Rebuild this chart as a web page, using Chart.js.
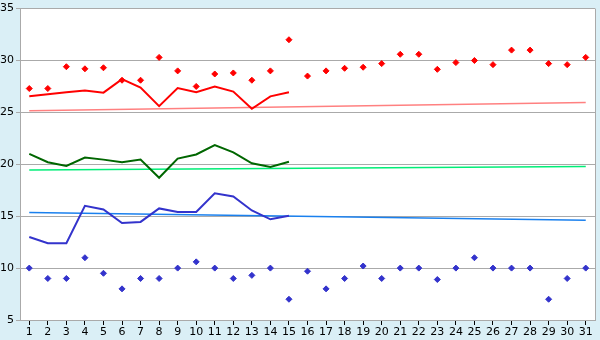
<!DOCTYPE html>
<html>
<head>
<meta charset="utf-8">
<script src="https://cdn.jsdelivr.net/npm/chart.js@4/dist/chart.umd.min.js"></script>
<style>
  body { margin: 0; background: #daeff6; }
  canvas { display: block; }
</style>
</head>
<body>
<canvas id="chart-month" width="600" height="340"></canvas>
<script>
const days = Array.from({ length: 31 }, (_, i) => String(i + 1));

const maxPoints = [27.3, 27.3, 29.4, 29.2, 29.3, 28.1, 28.1, 30.3, 29.0, 27.5, 28.7, 28.8, 28.1, 29.0, 32.0,
  28.5, 29.0, 29.25, 29.35, 29.7, 30.6, 30.6, 29.15, 29.8, 30.0, 29.6, 31.0, 31.0, 29.7, 29.6, 30.3];
const minPoints = [10.0, 9.0, 9.0, 11.0, 9.5, 8.0, 9.0, 9.0, 10.0, 10.6, 10.0, 9.0, 9.3, 10.0, 7.0,
  9.7, 8.0, 9.0, 10.2, 9.0, 10.0, 10.0, 8.9, 10.0, 11.0, 10.0, 10.0, 10.0, 7.0, 9.0, 10.0];

const redLine = [26.55, 26.75, 26.95, 27.1, 26.9, 28.2, 27.4, 25.6, 27.35, 26.95, 27.5, 27.0, 25.35, 26.55, 26.95];
const greenLine = [21.0, 20.2, 19.85, 20.65, 20.45, 20.2, 20.45, 18.7, 20.55, 20.95, 21.85, 21.15, 20.1, 19.75, 20.25];
const blueLine = [13.0, 12.4, 12.4, 16.0, 15.65, 14.35, 14.45, 15.75, 15.4, 15.4, 17.2, 16.9, 15.55, 14.7, 15.05];

// trend lines: values at day 1 and day 31
const redTrend = [25.15, 25.95];
const greenTrend = [19.45, 19.8];
const blueTrend = [15.35, 14.6];

const yTicks = [5, 10, 15, 20, 25, 30, 35];

function endpoints(pair) {
  const arr = days.map(() => null);
  arr[0] = pair[0];
  arr[days.length - 1] = pair[1];
  return arr;
}

const frame = {
  id: 'frame',
  beforeDraw(chart) {
    const { ctx, chartArea: a } = chart;
    ctx.save();
    ctx.fillStyle = '#daeff6';
    ctx.fillRect(0, 0, chart.width, chart.height);
    ctx.fillStyle = '#ffffff';
    ctx.fillRect(a.left, a.top, a.right - a.left, a.bottom - a.top);
    ctx.restore();
  },
  afterDraw(chart) {
    const { ctx, chartArea: a } = chart;
    ctx.save();
    ctx.strokeStyle = '#aaaaaa';
    ctx.lineWidth = 1;
    ctx.beginPath();
    ctx.moveTo(a.right + 0.5, a.top);
    ctx.lineTo(a.right + 0.5, a.bottom);
    ctx.stroke();
    ctx.restore();
  },
};

function trendSet(pair, color) {
  return {
    type: 'line',
    data: endpoints(pair),
    borderColor: color,
    borderWidth: 1.5,
    pointRadius: 0,
    spanGaps: true,
    tension: 0,
    order: 5,
  };
}

function lineSet(values, color) {
  return {
    type: 'line',
    data: values,
    borderColor: color,
    borderWidth: 2,
    pointRadius: 0,
    tension: 0,
    order: 2,
  };
}

function pointSet(values, color) {
  return {
    type: 'line',
    data: values,
    showLine: false,
    pointStyle: 'rectRot',
    pointRadius: 3,
    pointBackgroundColor: color,
    pointBorderColor: color,
    pointBorderWidth: 1,
    order: 1,
  };
}

Chart.defaults.font.family = '"DejaVu Sans", Verdana, sans-serif';
Chart.defaults.font.size = 11;
Chart.defaults.color = '#000000';

new Chart(document.getElementById('chart-month').getContext('2d'), {
  type: 'line',
  data: {
    labels: days,
    datasets: [
      trendSet(redTrend, '#ff8080'),
      trendSet(greenTrend, '#00ee77'),
      trendSet(blueTrend, '#1a80ee'),
      lineSet(redLine, '#ff0000'),
      lineSet(greenLine, '#006600'),
      lineSet(blueLine, '#3333cc'),
      pointSet(maxPoints, '#ff0000'),
      pointSet(minPoints, '#3333cc'),
    ],
  },
  options: {
    responsive: false,
    animation: false,
    layout: { padding: { top: 5, right: 5, left: 0, bottom: 0 } },
    plugins: { legend: { display: false }, tooltip: { enabled: false } },
    scales: {
      x: {
        offset: true,
        grid: { drawOnChartArea: false, drawTicks: true, tickLength: 5, color: '#000000', offset: false },
        border: { color: '#aaaaaa' },
        ticks: { autoSkip: false, maxRotation: 0, padding: 1, color: '#000000' },
        afterFit(scale) { scale.height = 20; },
      },
      y: {
        min: 5,
        max: 35,
        afterBuildTicks(scale) { scale.ticks = yTicks.map((v) => ({ value: v })); },
        grid: { color: '#aaaaaa', tickLength: 4 },
        border: { color: '#aaaaaa' },
        ticks: { padding: 2, color: '#000000' },
        afterFit(scale) { scale.width = 20; },
      },
    },
  },
  plugins: [frame],
});
</script>
</body>
</html>
